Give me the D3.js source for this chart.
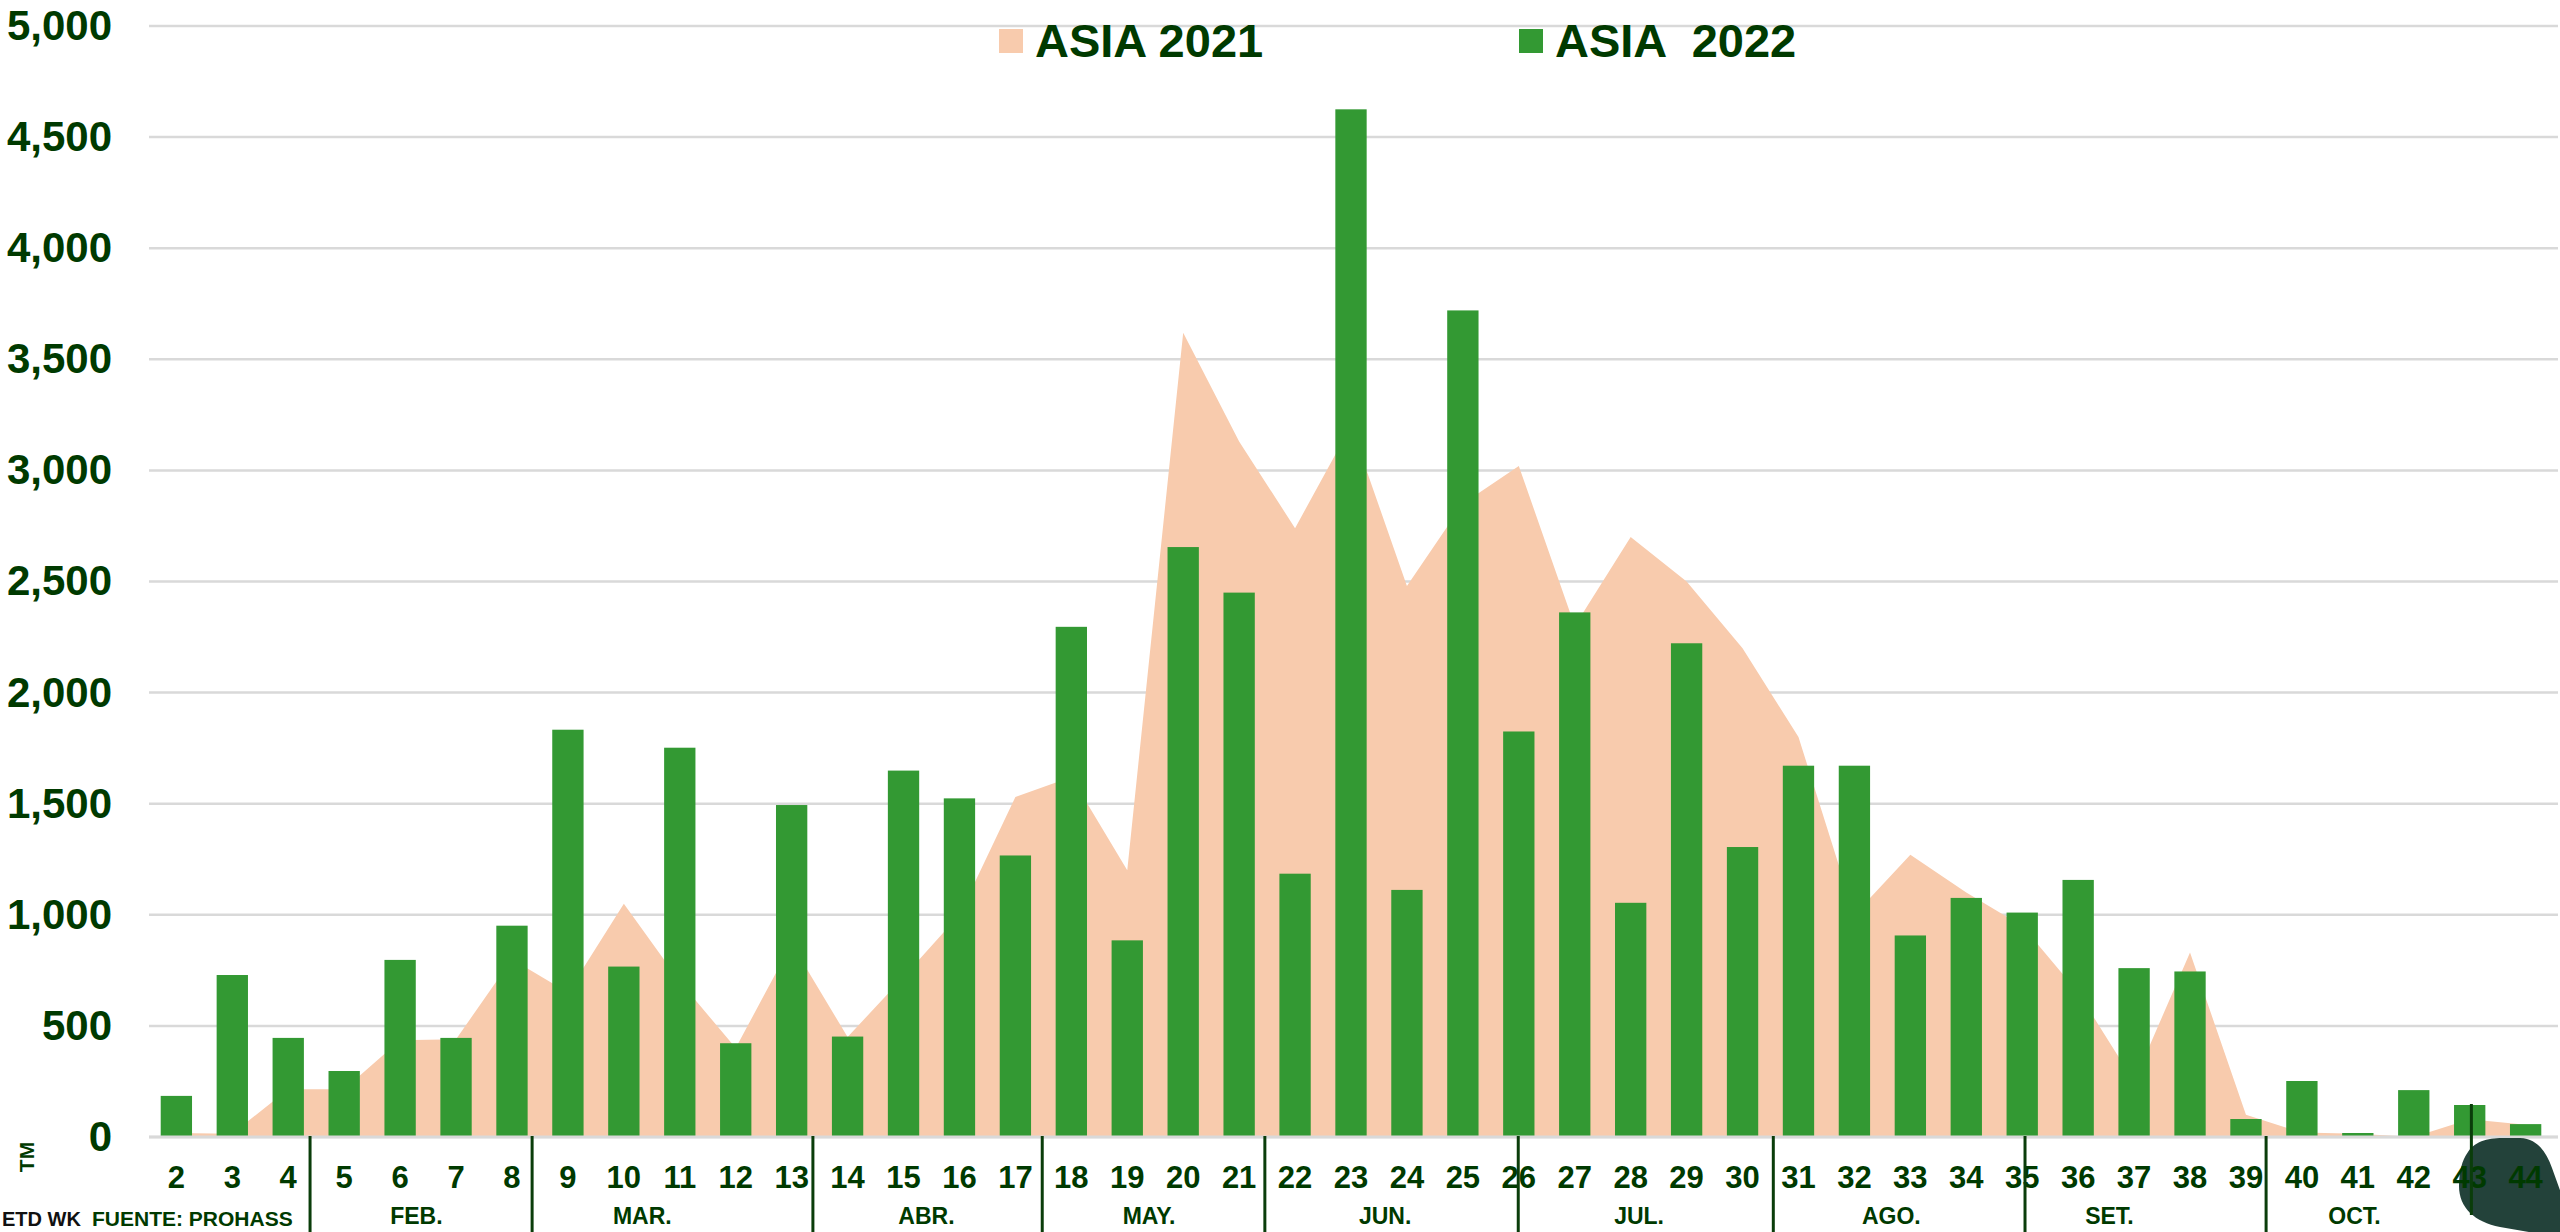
<!DOCTYPE html>
<html><head><meta charset="utf-8">
<script src="https://cdn.jsdelivr.net/npm/d3@7"></script>
<style>
html,body{margin:0;padding:0;background:#fff;}
svg{display:block;font-family:"Liberation Sans",Arial,sans-serif;font-weight:bold;}
</style></head>
<body>
<svg id="c" width="2560" height="1232"></svg>
<script>
const weeks = [2,3,4,5,6,7,8,9,10,11,12,13,14,15,16,17,18,19,20,21,22,23,24,25,26,27,28,29,30,31,32,33,34,35,36,37,38,39,40,41,42,43,44];
const asia2021 = [18,15,215,215,435,440,800,650,1050,700,400,870,450,720,1000,1530,1620,1200,3620,3130,2740,3200,2480,2850,3020,2300,2700,2500,2200,1800,1000,1270,1100,950,650,250,830,100,20,15,0,80,55];
const asia2022 = [185,729,446,297,797,446,951,1833,767,1752,422,1494,452,1649,1524,1267,2296,885,2655,2450,1185,4625,1112,3720,1825,2361,1054,2222,1305,1671,1671,907,1076,1010,1157,760,745,81,252,18,211,144,58];
const yTicks = [0,500,1000,1500,2000,2500,3000,3500,4000,4500,5000];
const seriesNames = ["ASIA 2021","ASIA  2022"];
const monthNames = ["FEB.","MAR.","ABR.","MAY.","JUN.","JUL.","AGO.","SET.","OCT."];
const monthLabelWeek = [6.29,10.33,15.41,19.39,23.61,28.15,32.66,36.56,40.94];
const monthBreakWeek = [4.39,8.36,13.38,17.48,21.46,25.99,30.55,35.05,39.36,43.03];

const GREEN="#339933", PEACH="#F8CBAD", TXT="#003a00", GRID="#d9d9d9";
const svg = d3.select("#c");
const x = d3.scaleBand().domain(weeks).range([148.4,2553.6]).paddingInner(0.44).paddingOuter(0.22);
const y = d3.scaleLinear().domain([0,5000]).range([1137,26]);
const xc = w => x(w)+x.bandwidth()/2;
const xw = d3.scaleLinear().domain([2,44]).range([xc(2),xc(44)]);

// gridlines
svg.append("g").selectAll("line").data(yTicks).join("line")
  .attr("x1",149).attr("x2",2558).attr("y1",d=>y(d)).attr("y2",d=>y(d))
  .attr("stroke",GRID).attr("stroke-width",2.5);

// area 2021
const area = d3.area().x((d,i)=>xc(weeks[i])).y0(y(0)).y1(d=>y(d));
svg.append("path").datum(asia2021).attr("d",area).attr("fill",PEACH);

// bars 2022
svg.append("g").selectAll("rect").data(asia2022).join("rect")
  .attr("x",(d,i)=>x(weeks[i])).attr("width",x.bandwidth())
  .attr("y",d=>y(d)).attr("height",d=>y(0)-y(d))
  .attr("fill",GREEN);

// axis baseline
svg.append("line").attr("x1",149).attr("x2",2558).attr("y1",y(0)).attr("y2",y(0))
  .attr("stroke",GRID).attr("stroke-width",3);

// y tick labels
const yAxis = d3.axisLeft(y).tickValues(yTicks).tickFormat(d3.format(",")).tickSize(0).tickPadding(0);
const ya = svg.append("g").attr("transform","translate(112,0)").call(yAxis);
ya.select(".domain").remove();
ya.selectAll("text").attr("fill",TXT).style("font-size","42px").style("font-weight","bold")
  .style("font-family","'Liberation Sans',Arial,sans-serif");

// blob bottom right
svg.append("path")
  .attr("d","M2468,1152 C2476,1140 2490,1138 2505,1138 L2520,1138 C2538,1139 2546,1152 2552,1168 L2575,1232 L2575,1240 L2500,1227 C2475,1222 2459,1208 2459,1186 C2459,1172 2462,1160 2468,1152 Z")
  .attr("fill","#23423a");

// week labels
const xa = svg.append("g").attr("transform",`translate(0,${1188})`);
xa.selectAll("text").data(weeks).join("text")
  .attr("x",d=>xc(d)).attr("text-anchor","middle")
  .attr("fill",TXT).style("font-size","31px").text(d=>d);

// month separators
svg.append("g").selectAll("line").data(monthBreakWeek).join("line")
  .attr("x1",d=>xw(d)).attr("x2",d=>xw(d))
  .attr("y1",(d,i)=> i===monthBreakWeek.length-1 ? 1104 : 1136)
  .attr("y2",(d,i)=> i===monthBreakWeek.length-1 ? 1215 : 1232)
  .attr("stroke","#0a3d0a").attr("stroke-width",3);

// month labels
svg.append("g").selectAll("text").data(monthNames).join("text")
  .attr("x",(d,i)=>xw(monthLabelWeek[i])).attr("y",1224).attr("text-anchor","middle")
  .attr("fill",TXT).style("font-size","23px").text(d=>d);

// misc text
svg.append("text").attr("transform","translate(34,1157) rotate(-90)").attr("text-anchor","middle")
  .attr("fill",TXT).style("font-size","21px").text("TM");
svg.append("text").attr("x",2).attr("y",1226).attr("fill","#111").style("font-size","20px").text("ETD WK");
svg.append("text").attr("x",92).attr("y",1226).attr("fill",TXT).style("font-size","21px").text("FUENTE: PROHASS");

// legend
const legX = [999,1519];
const legCol = [PEACH,GREEN];
seriesNames.forEach((n,i)=>{
  svg.append("rect").attr("x",legX[i]).attr("y",29).attr("width",24).attr("height",24).attr("fill",legCol[i]);
  svg.append("text").attr("x",legX[i]+36).attr("y",57).attr("fill",TXT)
    .style("font-size","47px").style("white-space","pre").attr("xml:space","preserve").text(n);
});
</script>
</body></html>
